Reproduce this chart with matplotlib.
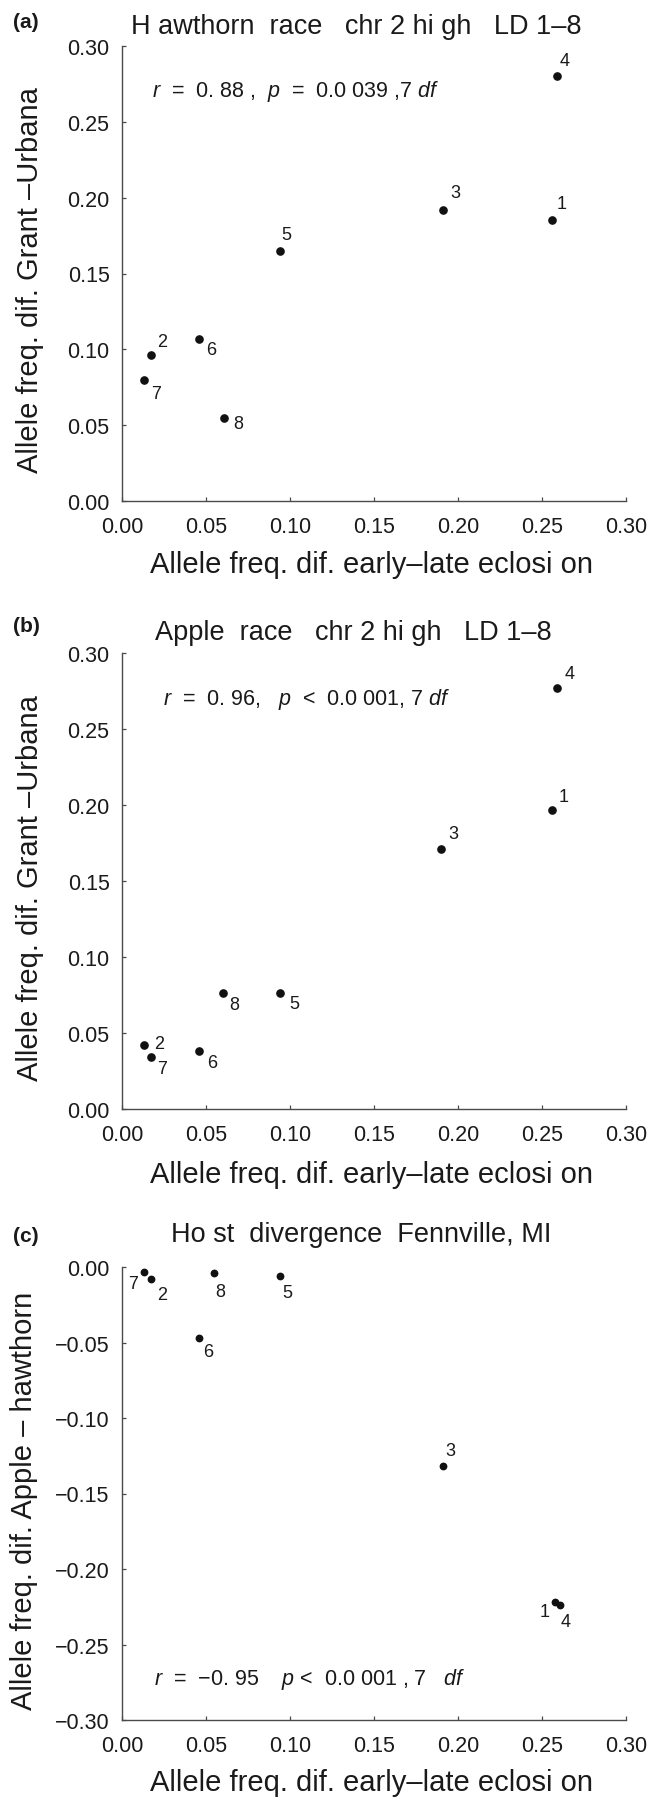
import matplotlib
matplotlib.use("Agg")
import matplotlib.pyplot as plt
from matplotlib.ticker import FuncFormatter

plt.rcParams['font.family'] = ['Liberation Sans', 'DejaVu Sans']
plt.rcParams['mathtext.fontset'] = 'custom'
plt.rcParams['mathtext.it'] = 'Liberation Sans:italic'
plt.rcParams['mathtext.rm'] = 'Liberation Sans'

# ---------------- data ----------------
loci = ["1", "2", "3", "4", "5", "6", "7", "8"]

a_x = [0.256, 0.017, 0.191, 0.259, 0.094, 0.046, 0.013, 0.061]
a_y = [0.185, 0.096, 0.192, 0.280, 0.165, 0.107, 0.080, 0.055]

b_x = [0.256, 0.013, 0.190, 0.259, 0.094, 0.046, 0.017, 0.060]
b_y = [0.197, 0.042, 0.171, 0.277, 0.076, 0.038, 0.034, 0.076]

c_x = [0.2575, 0.017, 0.191, 0.2605, 0.094, 0.046, 0.013, 0.055]
c_y = [-0.222, -0.008, -0.132, -0.224, -0.006, -0.047, -0.003, -0.004]

x_ticks = [0.00, 0.05, 0.10, 0.15, 0.20, 0.25, 0.30]
ab_y_ticks = [0.00, 0.05, 0.10, 0.15, 0.20, 0.25, 0.30]
c_y_ticks = [-0.30, -0.25, -0.20, -0.15, -0.10, -0.05, 0.00]

titles = ["H awthorn  race   chr 2 hi gh   LD 1–8",
          "Apple  race   chr 2 hi gh   LD 1–8",
          "Ho st  divergence  Fennville, MI"]
panel_tags = ["(a)", "(b)", "(c)"]
stats = [r"$\mathit{r}$  =  0. 88 ,  $\mathit{p}$  =  0.0 039 ,7 $\mathit{df}$",
         r"$\mathit{r}$  =  0. 96,   $\mathit{p}$  <  0.0 001, 7 $\mathit{df}$",
         r"$\mathit{r}$  =  −0. 95    $\mathit{p}$ <  0.0 001 , 7   $\mathit{df}$"]
ylabels = ["Allele freq. dif. Grant –Urbana",
           "Allele freq. dif. Grant –Urbana",
           "Allele freq. dif. Apple – hawthorn"]
xlabel = "Allele freq. dif. early–late eclosi on"

# label offsets (pixels) for point numbers
off_a = [(10, 17), (12, 14), (12, 17), (8, 16), (6, 16), (12, -11), (12, -14), (14, -6)]
off_b = [(12, 13), (15, 2), (12, 16), (13, 14), (14, -10), (13, -11), (12, -11), (11, -11)]
off_c = [(-10, -9), (12, -15), (7, 16), (6, -16), (7, -16), (9, -14), (-11, -12), (6, -18)]

W, H = 651, 1799
fig = plt.figure(figsize=(W / 100, H / 100), dpi=100)

# axes boxes in pixels: left, top, right, bottom
boxes = [(122, 47, 626, 502), (122, 654, 626, 1110), (122, 1268, 626, 1721)]
title_pos = [(356, 27), (353, 633), (361, 1235)]
tag_pos = [(26, 22), (26, 627), (26, 1237)]
stat_pos = [(0.018, 0.2706), (0.0242, 0.2698), (0.0188, -0.2722)]
ylab_x = [30, 30, 24]
xlab_y = [565, 1175, 1783]
xlab_x = 371

data = [(a_x, a_y, off_a, ab_y_ticks, (0, 0.30), 5.2),
        (b_x, b_y, off_b, ab_y_ticks, (0, 0.30), 5.2),
        (c_x, c_y, off_c, c_y_ticks, (-0.30, 0), 4.6)]

fmt = FuncFormatter(lambda v, p: ("%.2f" % v).replace("-", "−"))
spine_col = "#4a4a4a"
txt_col = "#1a1a1a"

for i, (xs, ys, offs, yt, ylim, ms) in enumerate(data):
    l, t, r, b = boxes[i]
    ax = fig.add_axes([l / W, 1 - b / H, (r - l) / W, (b - t) / H])
    ax.plot(xs, ys, 'o', color='#111111', markersize=ms, linestyle='none', clip_on=False)
    for k, lab in enumerate(loci):
        ax.annotate(lab, (xs[k], ys[k]), xytext=offs[k], textcoords='offset pixels',
                    ha='center', va='center', fontsize=13, color=txt_col)
    ax.set_xlim(0, 0.30)
    ax.set_ylim(*ylim)
    ax.set_xticks(x_ticks)
    ax.set_yticks(yt)
    ax.xaxis.set_major_formatter(fmt)
    ax.yaxis.set_major_formatter(fmt)
    for s in ['top', 'right']:
        ax.spines[s].set_visible(False)
    for s in ['left', 'bottom']:
        ax.spines[s].set_color(spine_col)
        ax.spines[s].set_linewidth(1.0)
    ax.tick_params(direction='in', length=3, width=0.9, color=spine_col,
                   labelsize=15.5, labelcolor=txt_col)
    ax.tick_params(axis='x', pad=11)
    ax.tick_params(axis='y', pad=9)
    ax.text(stat_pos[i][0], stat_pos[i][1], stats[i], fontsize=15.5, color=txt_col,
            ha='left', va='center')
    fig.text(xlab_x / W, 1 - xlab_y[i] / H, xlabel, fontsize=21, color=txt_col,
             ha='center', va='center')
    fig.text(ylab_x[i] / W, 1 - ((t + b) / 2 + 6) / H, ylabels[i], rotation=90,
             fontsize=21, color=txt_col, ha='center', va='center')
    fig.text(title_pos[i][0] / W, 1 - title_pos[i][1] / H, titles[i], fontsize=19.5,
             color=txt_col, ha='center', va='center')
    fig.text(tag_pos[i][0] / W, 1 - tag_pos[i][1] / H, panel_tags[i], fontsize=15,
             fontweight='bold', color=txt_col, ha='center', va='center')

fig.savefig("out.png", dpi=100, facecolor='white')
